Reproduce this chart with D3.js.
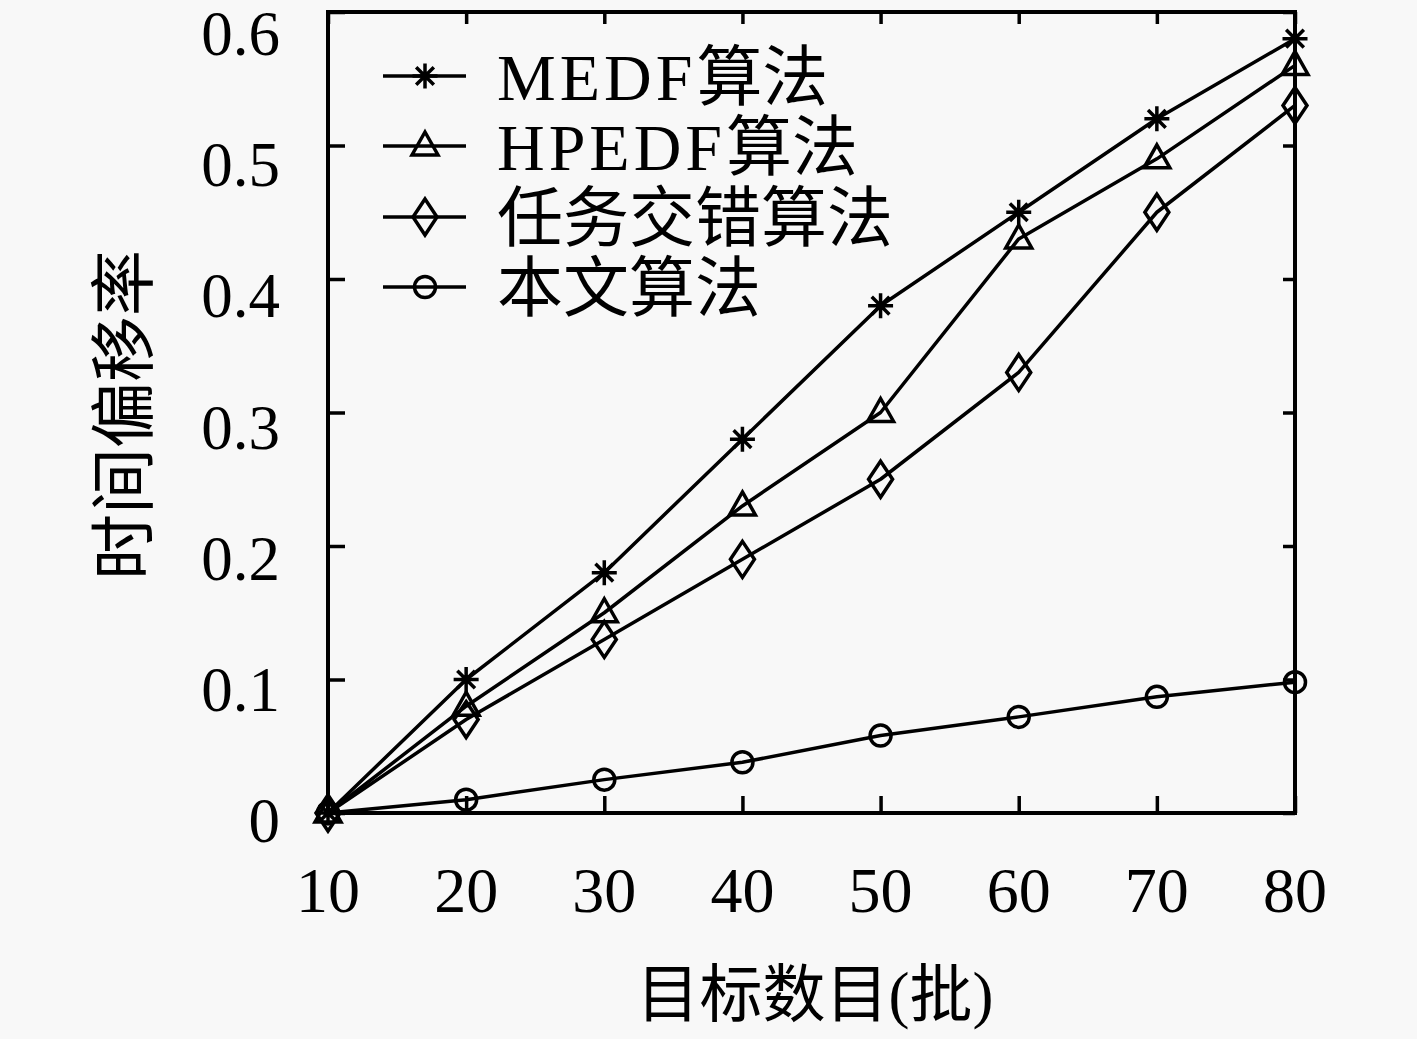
<!DOCTYPE html>
<html>
<head>
<meta charset="utf-8">
<script src="https://cdn.jsdelivr.net/npm/d3@7"></script>
<style>
  html, body { margin: 0; padding: 0; background: #f8f8f8; }
  svg { display: block; }
  text { font-family: "Liberation Serif", "Noto Sans CJK SC", serif; fill: #000; }
</style>
</head>
<body>
<svg id="chart" width="1417" height="1039"></svg>
<script>
// data
var batches = [10, 20, 30, 40, 50, 60, 70, 80];
var medf = [0, 0.10, 0.18, 0.28, 0.38, 0.45, 0.52, 0.58];
var hpedf = [0, 0.08, 0.15, 0.23, 0.30, 0.43, 0.49, 0.56];
var interleave = [0, 0.07, 0.13, 0.19, 0.25, 0.33, 0.45, 0.53];
var ours = [0, 0.010, 0.025, 0.038, 0.058, 0.072, 0.087, 0.098];
var seriesNames = ["MEDF算法", "HPEDF算法", "任务交错算法", "本文算法"];
var markerTypes = ["star", "triangle", "diamond", "circle"];
var xTicks = [10, 20, 30, 40, 50, 60, 70, 80];
var yTicks = [0, 0.1, 0.2, 0.3, 0.4, 0.5, 0.6];
var xTitle = "目标数目(批)";
var yTitle = "时间偏移率";

var series = [medf, hpedf, interleave, ours].map(function (vals, i) {
    return { name: seriesNames[i], marker: markerTypes[i], values: vals };
});

var margin = { left: 328, right: 1295, top: 12, bottom: 813 };
var svg = d3.select("#chart");

var x = d3.scaleLinear().domain([10, 80]).range([margin.left, margin.right]);
var y = d3.scaleLinear().domain([0, 0.6]).range([margin.bottom, margin.top]);
// baselines of the y tick labels drift a little against the ticks in the original
var yLabel = d3.scaleLinear().domain([0, 0.6]).range([842, 55]);

// marker shapes
function markerPath(type) {
    switch (type) {
        case "star":
            var r = 12.5, d45 = r * Math.SQRT1_2;
            return "M" + (-r) + ",0L" + r + ",0M0," + (-r) + "L0," + r +
                "M" + (-d45) + "," + (-d45) + "L" + d45 + "," + d45 +
                "M" + (-d45) + "," + d45 + "L" + d45 + "," + (-d45);
        case "triangle":
            return "M0,-14L13,9L-13,9Z";
        case "diamond":
            return "M0,-18L12,0L0,18L-12,0Z";
        case "circle":
            return "M-10.5,0A10.5,10.5 0 1,0 10.5,0A10.5,10.5 0 1,0 -10.5,0Z";
        default:
            console.log("Unrecognized marker", type);
            return "";
    }
}

// axes with inward ticks
var bottomAxis = d3.axisBottom(x).tickValues(xTicks).tickSizeInner(-17).tickSizeOuter(0).tickFormat("");
var topAxis = d3.axisTop(x).tickValues(xTicks).tickSizeInner(-12).tickSizeOuter(0).tickFormat("");
var leftAxis = d3.axisLeft(y).tickValues(yTicks).tickSizeInner(-17).tickSizeOuter(0).tickFormat("");
var rightAxis = d3.axisRight(y).tickValues(yTicks).tickSizeInner(-12).tickSizeOuter(0).tickFormat("");

[[bottomAxis, "translate(0," + margin.bottom + ")"],
 [topAxis, "translate(0," + margin.top + ")"],
 [leftAxis, "translate(" + margin.left + ",0)"],
 [rightAxis, "translate(" + margin.right + ",0)"]].forEach(function (a) {
    var g = svg.append("g").attr("transform", a[1]).call(a[0]);
    g.select(".domain").remove();
    g.selectAll(".tick line").attr("stroke", "#000").attr("stroke-width", 3.5);
});

// frame
svg.append("rect")
    .attr("x", margin.left)
    .attr("y", margin.top)
    .attr("width", margin.right - margin.left)
    .attr("height", margin.bottom - margin.top)
    .attr("fill", "none")
    .attr("stroke", "#000")
    .attr("stroke-width", 4);

// tick labels
svg.append("g").selectAll("text")
    .data(xTicks)
    .enter()
    .append("text")
    .attr("x", function (d) { return x(d); })
    .attr("y", 912)
    .attr("text-anchor", "middle")
    .attr("font-size", 64)
    .text(function (d) { return d; });

svg.append("g").selectAll("text")
    .data(yTicks)
    .enter()
    .append("text")
    .attr("x", 280)
    .attr("y", function (d) { return yLabel(d); })
    .attr("text-anchor", "end")
    .attr("font-size", 63)
    .text(function (d) { return d === 0 ? "0" : d3.format(".1f")(d); });

// axis titles
svg.append("text")
    .attr("x", 815)
    .attr("y", 1016)
    .attr("text-anchor", "middle")
    .attr("font-size", 63)
    .text(xTitle);

svg.append("text")
    .attr("transform", "translate(147,415) rotate(-90)")
    .attr("text-anchor", "middle")
    .attr("font-size", 66)
    .text(yTitle);

// series
var line = d3.line()
    .x(function (d, i) { return x(batches[i]); })
    .y(function (d) { return y(d); });

series.forEach(function (s) {
    var g = svg.append("g");
    g.append("path")
        .attr("d", line(s.values))
        .attr("fill", "none")
        .attr("stroke", "#000")
        .attr("stroke-width", 3.5)
        .attr("stroke-linejoin", "round");
    g.selectAll("path.mark")
        .data(s.values)
        .enter()
        .append("path")
        .attr("class", "mark")
        .attr("transform", function (d, i) { return "translate(" + x(batches[i]) + "," + y(d) + ")"; })
        .attr("d", markerPath(s.marker))
        .attr("fill", "none")
        .attr("stroke", "#000")
        .attr("stroke-width", 3.5);
});

// legend
var legendRows = [76, 146, 217, 287];
var legend = svg.append("g").selectAll("g")
    .data(series)
    .enter()
    .append("g")
    .attr("transform", function (d, i) { return "translate(0," + legendRows[i] + ")"; });
legend.append("line")
    .attr("x1", 383).attr("x2", 466)
    .attr("y1", 0).attr("y2", 0)
    .attr("stroke", "#000")
    .attr("stroke-width", 3.5);
legend.append("path")
    .attr("transform", "translate(425,0)")
    .attr("d", function (d) { return markerPath(d.marker); })
    .attr("fill", "none")
    .attr("stroke", "#000")
    .attr("stroke-width", 3.5);
var legendText = legend.append("text")
    .attr("x", 497)
    .attr("y", 24)
    .attr("font-size", 66);
// latin part of the name is set a bit wider, like the original
legendText.each(function (d) {
    var m = d.name.match(/^([A-Za-z]*)(.*)$/);
    var t = d3.select(this);
    if (m[1]) t.append("tspan").attr("letter-spacing", 4).text(m[1]);
    t.append("tspan").text(m[2]);
});
</script>
</body>
</html>
